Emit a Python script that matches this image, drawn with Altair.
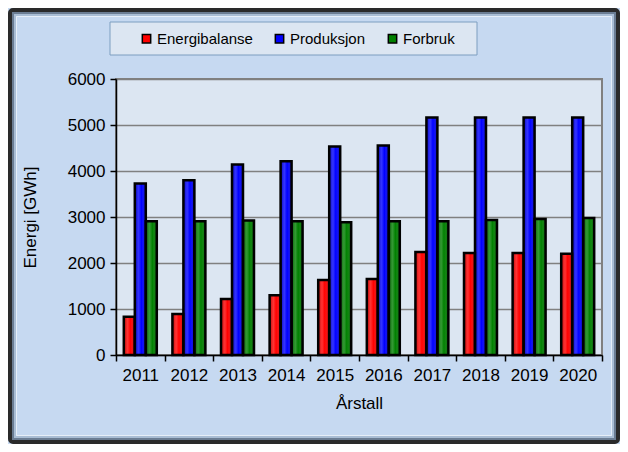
import altair as alt
import pandas as pd

years = [str(y) for y in range(2011, 2021)]
series = ["Energibalanse", "Produksjon", "Forbruk"]
energibalanse = [830, 890, 1220, 1300, 1630, 1650, 2240, 2220, 2220, 2200]
produksjon = [3730, 3800, 4140, 4210, 4535, 4555, 5165, 5165, 5165, 5165]
forbruk = [2905, 2905, 2925, 2905, 2885, 2905, 2905, 2935, 2955, 2980]
colors = ["#FF0000", "#0000FF", "#008000"]
y_ticks = [0, 1000, 2000, 3000, 4000, 5000, 6000]

rows = []
for s, vals in zip(series, [energibalanse, produksjon, forbruk]):
    for yr, v in zip(years, vals):
        rows.append({"År": yr, "Serie": s, "Verdi": v})
df = pd.DataFrame(rows)

FONT = "Liberation Sans"

x_enc = alt.X("År:N", title="Årstall", sort=years,
              scale=alt.Scale(paddingInner=0, paddingOuter=0),
              axis=alt.Axis(labelAngle=0, tickBand="extent", labelFont=FONT, labelFontSize=17,
                            labelColor="black", titleFont=FONT, titleFontSize=17,
                            titleFontWeight="normal", titleColor="black", titlePadding=12,
                            labelPadding=6, domainColor="black", domainWidth=1.5,
                            tickColor="black", tickSize=6, tickWidth=1.5))
xoff_enc = alt.XOffset("Serie:N", sort=series,
                       scale=alt.Scale(paddingInner=0, paddingOuter=0.71))
y_enc = alt.Y("Verdi:Q", title="Energi [GWh]",
              scale=alt.Scale(domain=[0, 6000], nice=False),
              axis=alt.Axis(values=y_ticks, format="d", labelFont=FONT, labelFontSize=17,
                            labelColor="black", titleFont=FONT, titleFontSize=17,
                            titleFontWeight="normal", titleColor="black", titlePadding=28,
                            labelPadding=5, domainColor="black", domainWidth=1.5,
                            tickColor="black", tickSize=6, tickWidth=1.5,
                            gridColor="#808080", gridWidth=1.5))

bars = alt.Chart(df).mark_bar(strokeWidth=0).encode(
    x=x_enc, xOffset=xoff_enc, y=y_enc,
    color=alt.Color("Serie:N", sort=series,
                    scale=alt.Scale(domain=series, range=colors),
                    legend=alt.Legend(orient="none", legendX=23, legendY=-48,
                                      direction="horizontal", title=None,
                                      symbolType="square", symbolSize=70,
                                      symbolStrokeColor="black", symbolStrokeWidth=1.5,
                                      labelFont=FONT, labelFontSize=15, labelColor="black",
                                      labelOffset=3, columnPadding=19)),
)

shade = alt.Chart(df).mark_bar(
    fill=alt.Gradient(gradient="linear", x1=0, x2=1, y1=0, y2=0,
                      stops=[alt.GradientStop(offset=0, color="rgba(0,0,0,0.3)"),
                             alt.GradientStop(offset=0.35, color="rgba(255,255,255,0.2)"),
                             alt.GradientStop(offset=0.6, color="rgba(255,255,255,0.0)"),
                             alt.GradientStop(offset=1, color="rgba(0,0,0,0.3)")]),
    stroke="black", strokeWidth=2.5,
).encode(x=x_enc, xOffset=xoff_enc, y=y_enc)

one = pd.DataFrame({"a": [0]})
frame1 = alt.Chart(one).mark_rect(fillOpacity=0, stroke="#2a2a2a", strokeWidth=4, cornerRadius=3).encode(
    x=alt.value(-106), x2=alt.value(502), y=alt.value(-69), y2=alt.value(363))
frame2 = alt.Chart(one).mark_rect(fillOpacity=0, stroke="#6b7d93", strokeWidth=2).encode(
    x=alt.value(-103), x2=alt.value(499), y=alt.value(-66), y2=alt.value(360))
frame3 = alt.Chart(one).mark_rect(fillOpacity=0, stroke="#a9bdd4", strokeWidth=2).encode(
    x=alt.value(-101), x2=alt.value(497), y=alt.value(-64), y2=alt.value(358))
frame4 = alt.Chart(one).mark_rect(fillOpacity=0, stroke="#e6eef8", strokeWidth=1).encode(
    x=alt.value(-99.5), x2=alt.value(495.5), y=alt.value(-62.5), y2=alt.value(356.5))
legend_box = alt.Chart(one).mark_rect(fill="#DCE6F2", stroke="#7d9ec0", strokeWidth=1).encode(
    x=alt.value(-6), x2=alt.value(361), y=alt.value(-57), y2=alt.value(-24))

chart = alt.layer(frame1, frame2, frame3, frame4, legend_box, bars, shade).properties(
    width=486, height=276,
    autosize=alt.AutoSizeParams(type="none"),
    padding={"left": 108, "top": 71, "right": 18, "bottom": 89},
    background="#C6D9F1",
).configure_view(fill="#DCE6F2", stroke="#808080", strokeWidth=2)

chart.save("out.html", embed_options={"renderer": "svg", "actions": False})
